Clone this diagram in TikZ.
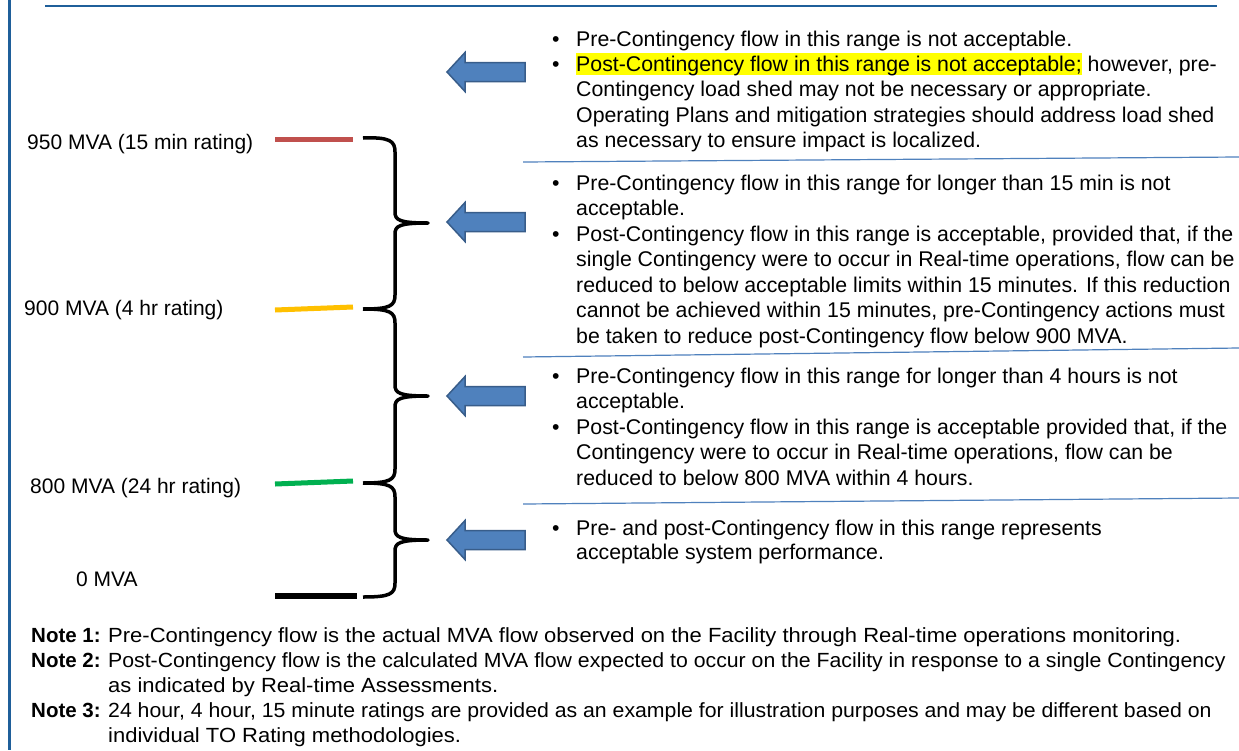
\documentclass[tikz,border=0pt]{standalone}
\usepackage{fontspec}
\setmainfont{Liberation Sans}
\newfontfamily\notefont{Liberation Sans}[FakeStretch=1.073]
\newfontfamily\notefontn{Liberation Sans}[FakeStretch=1.037]
\definecolor{frameblue}{HTML}{1F5F9A}
\definecolor{sepblue}{HTML}{4F81BD}
\definecolor{arrfill}{HTML}{4F81BD}
\definecolor{arrdraw}{HTML}{385D8A}
\definecolor{lvlred}{HTML}{C0504D}
\definecolor{lvlyellow}{HTML}{FFC000}
\definecolor{lvlgreen}{HTML}{00B050}
\definecolor{hlyellow}{HTML}{FFFF00}
\newcommand\hltext[1]{{\setlength\fboxsep{0pt}\colorbox{hlyellow}{\rule[-3.5pt]{0pt}{21.2pt}#1}}}
\newcommand\mylines[1]{\begin{tabular}[t]{@{}l@{}}#1\end{tabular}}
\begin{document}
\begin{tikzpicture}[x=1pt,y=-1pt,
  txt/.style={anchor=base west, inner sep=0pt, font=\fontsize{21.3}{25.5}\selectfont},
  bul/.style={anchor=base west, inner sep=0pt, font=\fontsize{21.3}{25.5}\selectfont},
  lbl/.style={anchor=base west, inner sep=0pt, font=\fontsize{21}{25}\selectfont},
  notelbl/.style={anchor=base west, inner sep=0pt, font=\bfseries\fontsize{20.5}{25}\selectfont},
  notetxt/.style={anchor=base west, inner sep=0pt, font=\notefont\fontsize{20.5}{25}\selectfont},
  level/.style={line width=5pt},
  bracestyle/.style={line width=3.5pt, line join=round},
  sepline/.style={draw=sepblue, line width=1.2pt},
  framel/.style={draw=frameblue},
  blkarrow/.pic={\filldraw[fill=arrfill, draw=arrdraw, line width=1.5pt, line join=miter]
     (0,0) -- (18,-19.5) -- (18,-9.5) -- (78,-9.5) -- (78,9.5) -- (18,9.5) -- (18,19.5) -- cycle;}
]
\useasboundingbox (0,0) rectangle (1239,750);
\fill[white] (0,0) rectangle (1239,750);

% frame
\draw[framel, line width=3pt] (9,0) -- (9,750);
\draw[framel, line width=2pt] (45,6) -- (1217,6);

% level labels
\node[lbl] (l950) at (27,149) {950 MVA (15 min rating)};
\node[lbl] (l900) at (24,315) {900 MVA (4 hr rating)};
\node[lbl] (l800) at (30,493) {800 MVA (24 hr rating)};
\node[lbl] (l0) at (76,586) {0 MVA};

% level lines
\draw[level, draw=lvlred] (275,139) -- (353,139);
\draw[level, draw=lvlyellow] (275,310) -- (353,307);
\draw[level, draw=lvlgreen] (275,484) -- (353,481);
\draw[line width=6pt] (275,596) -- (357,596);

% braces
\draw[bracestyle] (363,138) .. controls (390,137) and (395,141) .. (395,152) -- (395,212)
   .. controls (395,220) and (399,223) .. (428,223)
   .. controls (399,223) and (395,226) .. (395,234) -- (395,295)
   .. controls (395,306) and (390,309) .. (363,309);
\draw[bracestyle] (363,309) .. controls (390,309) and (395,312) .. (395,323) -- (395,385)
   .. controls (395,393) and (399,396) .. (428,396)
   .. controls (399,396) and (395,399) .. (395,407) -- (395,469)
   .. controls (395,480) and (390,483) .. (363,483);
\draw[bracestyle] (363,483) .. controls (390,483) and (395,486) .. (395,497) -- (395,529)
   .. controls (395,537) and (399,540) .. (428,540)
   .. controls (399,540) and (395,543) .. (395,551) -- (395,583)
   .. controls (395,594) and (390,597) .. (363,597);

% arrows
\pic at (447,72) {blkarrow};
\pic at (447,222) {blkarrow};
\pic at (447,396) {blkarrow};
\pic at (447,540) {blkarrow};

% separators
\draw[sepline] (523,162) -- (1239,157);
\draw[sepline] (523,357) -- (1239,348);
\draw[sepline] (523,504) -- (1239,498);

% block 1
\node[bul] (b1a) at (552,46) {•};
\node[txt] (t1a) at (576,46) {Pre-Contingency flow in this range is not acceptable.};
\node[bul] (b1b) at (552,71) {•};
\node[txt] (t1b) at (576,71) {\mylines{\hltext{Post-Contingency flow in this range is not acceptable;} however, pre-\\Contingency load shed may not be necessary or appropriate.\\Operating Plans and mitigation strategies should address load shed\\as necessary to ensure impact is localized.}};

% block 2
\node[bul] (b2a) at (552,190) {•};
\node[txt] (t2a) at (576,190) {\mylines{Pre-Contingency flow in this range for longer than 15 min is not\\acceptable.}};
\node[bul] (b2b) at (552,241) {•};
\node[txt] (t2b) at (576,241) {\mylines{Post-Contingency flow in this range is acceptable, provided that, if the\\single Contingency were to occur in Real-time operations, flow can be\\reduced to below acceptable limits within 15 minutes. If this reduction\\cannot be achieved within 15 minutes, pre-Contingency actions must\\be taken to reduce post-Contingency flow below 900 MVA.}};

% block 3
\node[bul] (b3a) at (552,383) {•};
\node[txt] (t3a) at (576,383) {\mylines{Pre-Contingency flow in this range for longer than 4 hours is not\\acceptable.}};
\node[bul] (b3b) at (552,434) {•};
\node[txt] (t3b) at (576,434) {\mylines{Post-Contingency flow in this range is acceptable provided that, if the\\Contingency were to occur in Real-time operations, flow can be\\reduced to below 800 MVA within 4 hours.}};

% block 4
\node[bul] (b4a) at (552,535) {•};
\node[txt, font=\fontsize{21.3}{24.5}\selectfont] (t4a) at (576,535) {\mylines{Pre- and post-Contingency flow in this range represents\\acceptable system performance.}};

% notes
\node[notelbl] (n1) at (31,642) {Note 1:};
\node[notetxt] (n1t) at (108,642) {Pre-Contingency flow is the actual MVA flow observed on the Facility through Real-time operations monitoring.};
\node[notelbl] (n2) at (31,667) {Note 2:};
\node[notetxt] (n2t) at (108,667) {\mylines{{\notefontn Post-Contingency flow is the calculated MVA flow expected to occur on the Facility in response to a single Contingency}\\as indicated by Real-time Assessments.}};
\node[notelbl] (n3) at (31,717) {Note 3:};
\node[notetxt] (n3t) at (108,717) {\mylines{{\notefontn 24 hour, 4 hour, 15 minute ratings are provided as an example for illustration purposes and may be different based on}\\individual TO Rating methodologies.}};
\end{tikzpicture}
\end{document}
